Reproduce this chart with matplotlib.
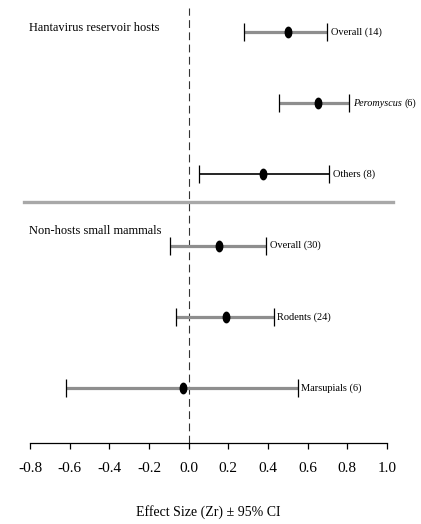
import numpy as np
import matplotlib
matplotlib.use("Agg")
import matplotlib.pyplot as plt
from matplotlib.path import Path

plt.rcParams["font.family"] = ["Liberation Serif", "DejaVu Serif"]
plt.rcParams["axes.unicode_minus"] = False

# Mean effect size (Zr) and 95% CI bounds for each group, top to bottom
groups = ["Overall (14)", "Peromyscus (6)", "Others (8)",
          "Overall (30)", "Rodents (24)", "Marsupials (6)"]
effect = [0.50, 0.65, 0.376, 0.154, 0.189, -0.029]
ci_low = [0.281, 0.455, 0.054, -0.092, -0.062, -0.621]
ci_high = [0.698, 0.809, 0.710, 0.391, 0.428, 0.551]
italic_part = [None, "Peromyscus", None, None, None, None]

section_titles = ["Hantavirus reservoir hosts", "Non-hosts small mammals"]
xticks = [-0.8, -0.6, -0.4, -0.2, 0.0, 0.2, 0.4, 0.6, 0.8, 1.0]

ci_colors = ["#8e8e8e", "#8e8e8e", "black", "#8e8e8e", "#8e8e8e", "#8e8e8e"]
ci_widths = [2.3, 2.3, 1.2, 2.3, 2.3, 2.3]

rows = np.arange(len(groups))

fig = plt.figure(figsize=(4.21, 5.24), dpi=100)
ax = fig.add_axes([30 / 421, 1 - 443 / 524, 357 / 421, 435 / 524])

# zero-effect reference
ax.axvline(0, color="#333333", lw=0.8, ls=(0, (7, 4)), zorder=1)

# narrow ellipse marker for the point estimates
circ = Path.unit_circle()
ellipse = Path(circ.vertices * np.array([0.62, 1.0]), circ.codes)

for i in rows:
    ax.hlines(i, ci_low[i], ci_high[i], color=ci_colors[i], lw=ci_widths[i], zorder=2)
ax.plot(ci_low, rows, ls="none", marker="|", ms=13.5, mew=0.9, color="black", zorder=3)
ax.plot(ci_high, rows, ls="none", marker="|", ms=13.5, mew=0.9, color="black", zorder=3)
ax.plot(effect, rows, ls="none", marker=ellipse, ms=7.5, color="black", zorder=4)

# row labels just right of the upper cap
for i in rows:
    if italic_part[i]:
        t = ax.annotate(italic_part[i], xy=(ci_high[i], i), xytext=(2.5, 0),
                        textcoords="offset points", va="center", ha="left",
                        fontsize=7.3, style="italic")
        ax.annotate(groups[i][len(italic_part[i]):].strip(), xy=(1, 0.5), xycoords=t,
                    xytext=(2, 0), textcoords="offset points",
                    va="center", ha="left", fontsize=7.3)
    else:
        ax.annotate(groups[i], xy=(ci_high[i], i), xytext=(2.5, 0),
                    textcoords="offset points", va="center", ha="left", fontsize=7.5)

# section headings and divider
ax.text(-0.805, -0.015, section_titles[0], fontsize=8.9, va="baseline", ha="left")
ax.text(-0.805, 2.835, section_titles[1], fontsize=8.9, va="baseline", ha="left")
ax.plot([-0.828, 1.028], [2.38, 2.38], color="#a8a8a8", lw=2.4, clip_on=False, zorder=2)

ax.set_xlim(-0.8, 1.0)
ax.set_ylim(5.77, -0.337)
ax.set_xticks(xticks)
ax.set_xticklabels([f"{v:.1f}" for v in xticks], fontsize=11)
ax.set_yticks([])
for side in ["top", "right", "left"]:
    ax.spines[side].set_visible(False)
ax.spines["bottom"].set_linewidth(0.9)
ax.tick_params(axis="x", direction="out", length=4, width=0.9, pad=10)
ax.set_xlabel("Effect Size (Zr) ± 95% CI", fontsize=10, labelpad=21)

fig.savefig("out.png", dpi=100)
